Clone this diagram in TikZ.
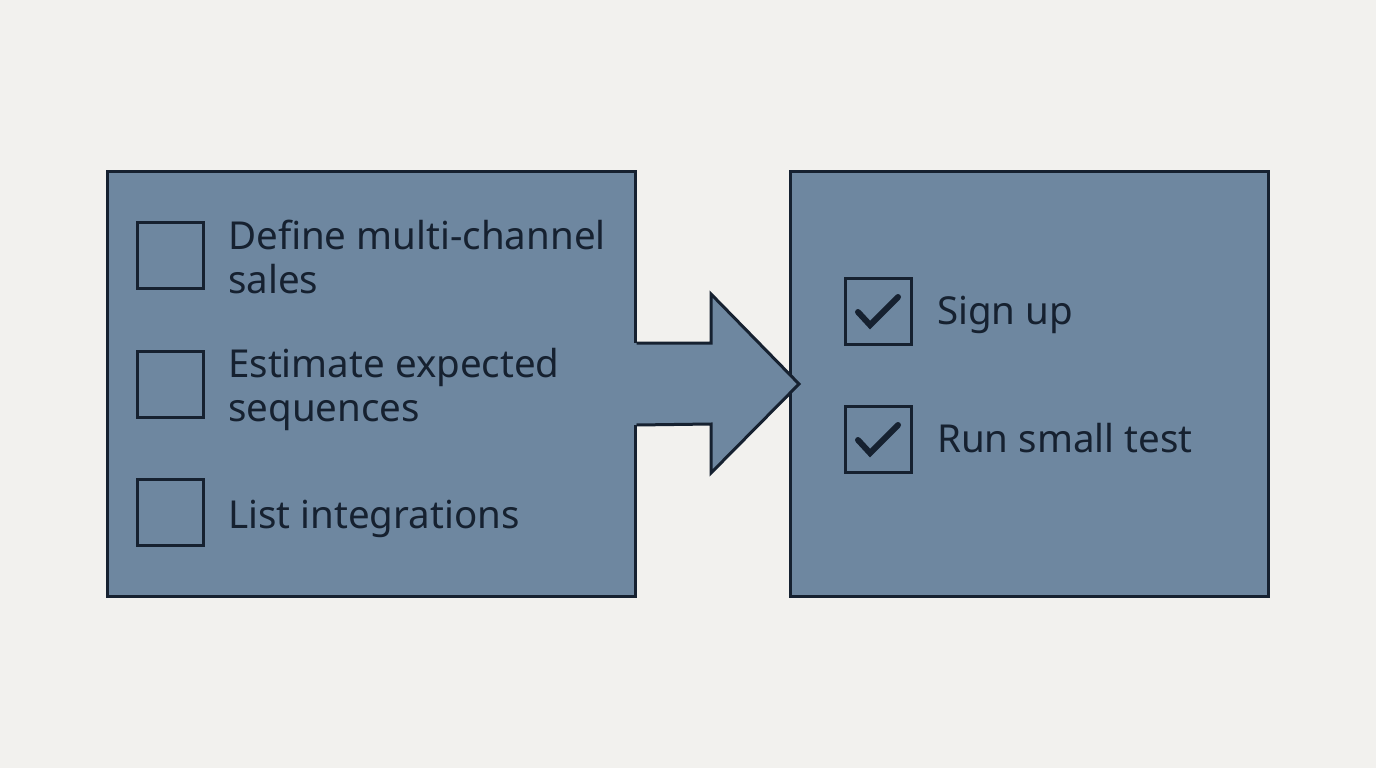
\documentclass[tikz,border=0pt]{standalone}
\usepackage{fontspec}
\setmainfont{Noto Sans}
\usepackage{tikz}
\usetikzlibrary{calc}

\definecolor{paper}{HTML}{F2F1EE}
\definecolor{slate}{HTML}{6E87A0}
\definecolor{ink}{HTML}{162130}

\tikzset{
  panel/.style={draw=ink, fill=slate, line width=3pt, minimum width=528pt, minimum height=425pt, inner sep=0pt},
  tickbox/.style={draw=ink, line width=3pt, minimum size=66pt, inner sep=0pt},
  item/.style={text=ink, anchor=base west, inner sep=0pt, align=left, font=\fontsize{38.5}{44}\selectfont},
  tick/.style={draw=ink, line width=6pt, line cap=round, line join=miter}
}

\begin{document}
\begin{tikzpicture}[x=1pt, y=-1pt]
  \fill[paper] (0,0) rectangle (1376,768);
  \useasboundingbox (0,0) rectangle (1376,768);

  % the two panels
  \node[panel] (todo) at (371,384) {};
  \node[panel, minimum width=478pt] (done) at (1029,384) {};

  % arrow from the left panel into the right one
  \coordinate (a_top) at ($(todo.east)+(0,-41)$);
  \coordinate (a_bot) at ($(todo.east)+(0,41)$);
  \coordinate (a_tip) at (799,384);
  \fill[slate] ($(a_top)+(-3,0)$) -- (711,343) -- (711,294) -- (a_tip)
    -- (711,473) -- (711,424) -- ($(a_bot)+(-3,0)$) -- cycle;
  \draw[ink, line width=3pt, line join=miter]
    (a_top) -- (711,343) -- (711,294) -- (a_tip)
    -- (711,473) -- (711,424) -- (a_bot);

  % open items (base = last line)
  \node[tickbox] (box1) at (170,255) {};
  \node[tickbox] (box2) at (170,384) {};
  \node[tickbox] (box3) at (170,512) {};
  \node[item] (define) at (228,293) {Define multi-channel\\sales};
  \node[item] (estimate) at (228,421) {Estimate expected\\sequences};
  \node[item] (list) at (228,528) {List integrations};

  % finished items
  \node[tickbox] (box4) at (878,311) {};
  \node[tickbox] (box5) at (878,439) {};
  \foreach \b in {box4, box5}
    \draw[tick] ($(\b.center)+(-20,1)$) -- ($(\b.center)+(-8,14)$) -- ($(\b.center)+(20,-14)$);
  \node[item] (signup) at (937,324) {Sign up};
  \node[item] (runtest) at (937,452) {Run small test};
\end{tikzpicture}
\end{document}
